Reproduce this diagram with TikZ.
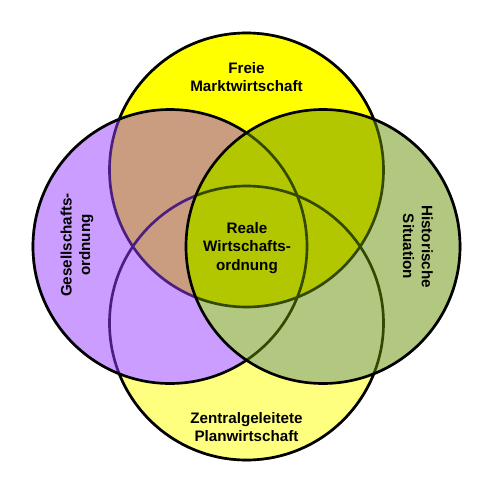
\documentclass[tikz,border=0pt]{standalone}
\usepackage{fontspec}
\setmainfont{Liberation Sans}
\definecolor{marktgelb}{RGB}{255,255,0}
\definecolor{gesellviolett}{RGB}{150,60,255}
\definecolor{historgruen}{RGB}{102,145,0}
\tikzset{
	kreis/.style={line width=2pt},
	beschriftung/.style={align=center, font=\fontsize{11.4}{14}\selectfont\bfseries, inner sep=0pt}
}
\begin{document}
\begin{tikzpicture}[x=0.75pt, y=-0.75pt]
		\useasboundingbox (0,0) rectangle (494,494);
		\fill[white] (0,0) rectangle (494,494);
		
		\coordinate (markt) at (246.5,170);
		\coordinate (plan) at (246.5,323);
		\coordinate (gesell) at (170,246.5);
		\coordinate (histor) at (323,246.5);
		
		% opaque layer
		\fill[marktgelb] (markt) circle[radius=137];
		\foreach \m in {markt,plan,gesell,histor}
			\draw[kreis] (\m) circle[radius=137];
		
		% half covering layer, each circle over the one before
		\begin{scope}[transparency group, opacity=0.5]
			\foreach \m/\f in {markt/marktgelb, plan/marktgelb, gesell/gesellviolett, histor/historgruen}
				\filldraw[kreis, fill=\f] (\m) circle[radius=137];
		\end{scope}
		
		\node[beschriftung] (marktwirtschaft) at (246.5,77) {Freie\\Marktwirtschaft};
		\node[beschriftung] (realeordnung) at (247,248) {Reale\\Wirtschafts-\\ordnung};
		\node[beschriftung] (planwirtschaft) at (246.5,427) {Zentralgeleitete\\Planwirtschaft};
		\node[beschriftung, rotate=90] (gesellschaft) at (77,245) {Gesellschafts-\\ordnung};
		\node[beschriftung, rotate=-90] (situation) at (418,246.5) {Historische\\Situation};
	\end{tikzpicture}
\end{document}
